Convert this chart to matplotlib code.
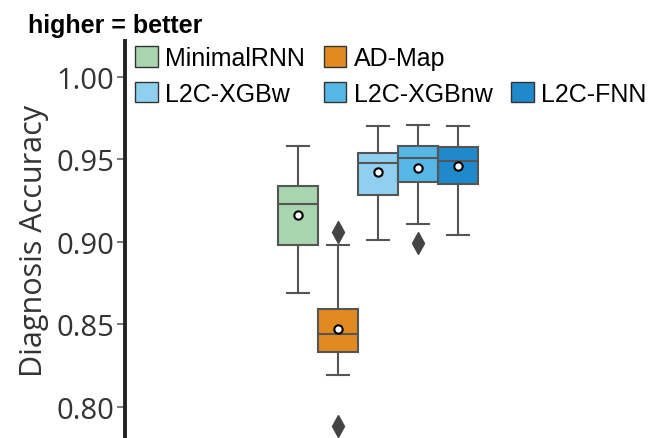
import numpy as np
import matplotlib.pyplot as plt
from matplotlib.patches import Patch

# Summary statistics of diagnosis accuracy per method
methods = ['MinimalRNN', 'AD-Map', 'L2C-XGBw', 'L2C-XGBnw', 'L2C-FNN']
colors = ['#a8d4ae', '#e28a22', '#8fd0f0', '#55b7e5', '#1f89cb']
whislo = [0.869, 0.819, 0.901, 0.911, 0.904]
q1 = [0.898, 0.833, 0.9285, 0.936, 0.935]
med = [0.923, 0.844, 0.948, 0.951, 0.949]
q3 = [0.934, 0.8595, 0.954, 0.958, 0.9575]
whishi = [0.958, 0.898, 0.9705, 0.971, 0.9705]
means = [0.9165, 0.847, 0.9425, 0.945, 0.946]
fliers = [[], [0.906, 0.788], [], [0.899], []]

yticks = [0.80, 0.85, 0.90, 0.95, 1.00]

stats = []
for i, m in enumerate(methods):
    stats.append(dict(label=m, whislo=whislo[i], q1=q1[i], med=med[i], q3=q3[i],
                      whishi=whishi[i], mean=means[i], fliers=fliers[i]))

fig = plt.figure(figsize=(6.52, 4.39), dpi=100)
left = 124.5 / 652
ax = fig.add_axes([left, 0.0, 1 - left, (439 - 42) / 439])

edge = '#555555'
n = len(methods)
w = 0.16
pos = [(i - (n - 1) / 2) * w for i in range(n)]
bp = ax.bxp(stats, positions=pos, widths=w, showmeans=True, patch_artist=True,
            manage_ticks=False, capwidths=0.09,
            boxprops=dict(edgecolor=edge, linewidth=1.5),
            medianprops=dict(color=edge, linewidth=1.5),
            whiskerprops=dict(color=edge, linewidth=1.5),
            capprops=dict(color=edge, linewidth=1.5),
            meanprops=dict(marker='o', markerfacecolor='white', markeredgecolor='black',
                           markeredgewidth=1.5, markersize=6),
            flierprops=dict(marker='d', markerfacecolor='#444444', markeredgecolor='#444444',
                            markersize=11))
for patch, c in zip(bp['boxes'], colors):
    patch.set_facecolor(c)

ax.set_xlim(-1.013, 1.097)
ax.set_ylim(0.781, 1.0218)
ax.set_yticks(yticks)
ax.set_yticklabels([f'{t:.2f}' for t in yticks], fontsize=21, family='Open Sans', color='#333333')
ax.set_xticks([])
for s in ['top', 'right', 'bottom']:
    ax.spines[s].set_visible(False)
ax.spines['left'].set_linewidth(2.8)
ax.spines['left'].set_color('#222222')
ax.tick_params(axis='y', length=6, width=1.1, color='#555555', pad=1.5)
ax.set_ylabel('Diagnosis Accuracy', fontsize=22, family='Open Sans', color='#333333', labelpad=5)

# legend: two rows, top-right slot left empty
h = [Patch(facecolor=c, edgecolor='#333333', linewidth=1) for c in colors]
blank = Patch(visible=False)
handles = [h[0], h[2], h[1], h[3], blank, h[4]]
labels = [methods[0], methods[2], methods[1], methods[3], '', methods[4]]
fig.legend(handles, labels, ncol=3, loc='upper left', bbox_to_anchor=(135 / 652, 1 - 47 / 439),
           frameon=False, prop=dict(family='Liberation Sans', size=18),
           handlelength=0.9, handleheight=0.9, handletextpad=0.3, columnspacing=0.75,
           labelspacing=0.46, borderpad=0, borderaxespad=0)

fig.text(28 / 652, 1 - 33 / 439, 'higher = better', fontsize=18, fontweight='bold',
         family='Liberation Sans', ha='left', va='baseline')

fig.savefig('out.png', dpi=100)
